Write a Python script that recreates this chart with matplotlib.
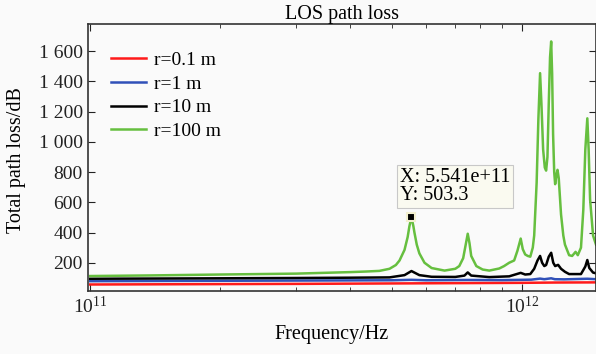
import numpy as np
import matplotlib
matplotlib.use("Agg")
import matplotlib.pyplot as plt
from matplotlib.ticker import FuncFormatter, LogLocator

plt.rcParams['font.family'] = ['Liberation Serif', 'DejaVu Serif']
plt.rcParams['mathtext.fontset'] = 'stix'

# frequency (Hz) / path loss (dB)
f_green = [1.00e11, 1.376e11, 2.0e11, 3.0e11, 4.0e11, 4.36e11, 4.67e11, 4.93e11, 5.10e11, 5.20e11,
           5.34e11, 5.43e11, 5.48e11, 5.541e11, 5.60e11, 5.63e11, 5.70e11, 5.78e11, 5.94e11, 6.17e11,
           6.61e11, 7.00e11, 7.15e11, 7.30e11, 7.40e11, 7.48e11, 7.55e11, 7.62e11, 7.83e11, 8.1e11,
           8.39e11, 8.85e11, 9.08e11, 9.33e11, 9.58e11, 9.75e11, 9.92e11, 1.003e12, 1.016e12, 1.030e12,
           1.044e12, 1.058e12, 1.066e12, 1.080e12, 1.090e12, 1.100e12, 1.108e12, 1.118e12, 1.128e12, 1.136e12,
           1.144e12, 1.152e12, 1.160e12, 1.167e12, 1.173e12, 1.179e12, 1.186e12, 1.192e12, 1.200e12, 1.207e12,
           1.215e12, 1.230e12, 1.245e12, 1.256e12, 1.284e12, 1.305e12, 1.329e12, 1.345e12, 1.368e12, 1.385e12,
           1.400e12, 1.415e12, 1.425e12, 1.436e12, 1.459e12, 1.482e12]
loss_green = [112, 116, 122, 128, 138, 142, 146, 160, 185, 215,
              285, 370, 440, 503.3, 440, 400, 320, 262, 200, 165,
              148, 160, 178, 230, 320, 392, 330, 245, 178, 155,
              148, 162, 178, 200, 215, 280, 360, 290, 255, 245,
              240, 300, 380, 730, 1150, 1455, 1250, 950, 830, 810,
              900, 1250, 1560, 1665, 1450, 1050, 800, 720, 780, 815,
              760, 520, 380, 320, 250, 245, 272, 250, 300, 550,
              950, 1156, 950, 620, 380, 320]

f_black = [1.00e11, 2.0e11, 3.0e11, 4.0e11, 4.93e11, 5.34e11, 5.541e11, 5.78e11, 6.17e11, 7.00e11,
           7.35e11, 7.48e11, 7.62e11, 8.39e11, 9.33e11, 9.92e11, 1.016e12, 1.044e12, 1.066e12, 1.085e12,
           1.100e12, 1.112e12, 1.125e12, 1.136e12, 1.152e12, 1.167e12, 1.180e12, 1.192e12, 1.211e12, 1.230e12,
           1.256e12, 1.284e12, 1.368e12, 1.400e12, 1.415e12, 1.430e12, 1.459e12, 1.482e12]
loss_black = [94, 97, 99, 101, 103, 118, 145, 118, 107, 106,
              115, 136, 115, 105, 110, 133, 122, 125, 160, 215,
              245, 200, 178, 185, 240, 266, 200, 178, 186, 160,
              140, 125, 125, 175, 218, 165, 135, 130]

f_blue = [1e11, 3e11, 5e11, 5.541e11, 6e11, 7.48e11, 9e11, 1.0e12, 1.05e12, 1.10e12,
          1.125e12, 1.167e12, 1.19e12, 1.25e12, 1.415e12, 1.482e12]
loss_blue = [78, 82, 84, 87, 84, 86, 85, 87, 88, 95,
             91, 97, 91, 90, 94, 91]

f_red = [1e11, 3e11, 6e11, 1e12, 1.2e12, 1.482e12]
loss_red = [56, 60, 64, 67, 69, 70]

fig = plt.figure(figsize=(5.96, 3.54), dpi=100, facecolor='#fafafa')
ax = fig.add_axes([0.147, 0.178, 0.853, 0.754])
ax.set_facecolor('#fafafa')

ax.plot(f_red, loss_red, color='#ff1a1a', lw=1.8, label='r=0.1 m')
ax.plot(f_blue, loss_blue, color='#3050b8', lw=1.8, label='r=1 m')
ax.plot(f_black, loss_black, color='black', lw=1.8, label='r=10 m')
ax.plot(f_green, loss_green, color='#66bf3f', lw=1.8, label='r=100 m')

# data tip
ax.plot([5.541e11], [503.3], marker='s', ms=6, color='black', mec='#f3f0d0', mew=1.5, zorder=5)
ax.text(5.2e11, 585, 'X: 5.541e+11\nY: 503.3', fontsize=14.5, linespacing=0.88,
        va='bottom', ha='left',
        bbox=dict(boxstyle='square,pad=0.15', fc='#fafaf0', ec='#c8c8c8', lw=0.8))

ax.set_xscale('log')
ax.set_xlim(0.986e11, 1.482e12)
ax.set_ylim(13, 1780)
ax.set_yticks([200, 400, 600, 800, 1000, 1200, 1400, 1600])
ax.yaxis.set_major_formatter(FuncFormatter(lambda v, p: f'{int(v):,}'.replace(',', ' ')))
ax.xaxis.set_minor_locator(LogLocator(base=10, subs=np.arange(2, 10)))

ax.tick_params(which='both', direction='in', top=True, right=True, labelsize=14, colors='#222222')
ax.tick_params(which='major', length=5)
ax.tick_params(which='minor', length=3)
for s in ax.spines.values():
    s.set_color('#333333')
    s.set_linewidth(1.2)

ax.set_title('LOS path loss', fontsize=14.5, pad=4)
ax.set_xlabel('Frequency/Hz', fontsize=14.5)
ax.set_ylabel('Total path loss/dB', fontsize=14.5)
ax.xaxis.set_label_coords(0.479, -0.127)
ax.yaxis.set_label_coords(-0.121, 0.49)

ax.legend(loc='upper left', bbox_to_anchor=(0.012, 0.964), frameon=False, fontsize=14,
          handlelength=1.8, handletextpad=0.4, labelspacing=0.32)

fig.savefig('out.png', dpi=100, facecolor=fig.get_facecolor())
